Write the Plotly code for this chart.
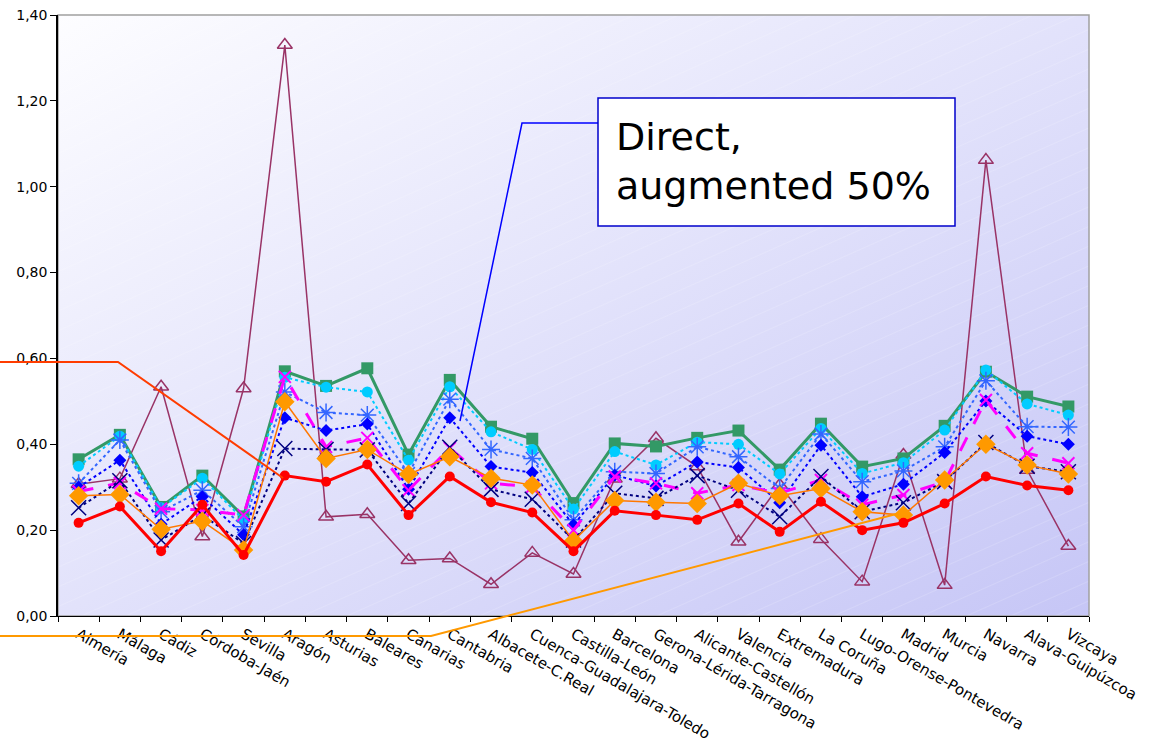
import base64
import plotly.graph_objects as go

# Regions along the x axis
regions = [
    "Almería", "Málaga", "Cádiz", "Córdoba-Jaén", "Sevilla", "Aragón",
    "Asturias", "Baleares", "Canarias", "Cantabria", "Albacete-C.Real",
    "Cuenca-Guadalajara-Toledo", "Castilla-León", "Barcelona",
    "Gerona-Lérida-Tarragona", "Alicante-Castellón", "Valencia",
    "Extremadura", "La Coruña", "Lugo-Orense-Pontevedra", "Madrid",
    "Murcia", "Navarra", "Alava-Guipúzcoa", "Vizcaya",
]

# Series values
s_green = [0.365, 0.422, 0.254, 0.327, 0.232, 0.570, 0.536, 0.577, 0.376, 0.550, 0.441, 0.413, 0.263,
           0.402, 0.395, 0.415, 0.432, 0.341, 0.448, 0.348, 0.367, 0.443, 0.569, 0.511, 0.488]
s_cyan = [0.349, 0.419, 0.252, 0.321, 0.224, 0.556, 0.533, 0.522, 0.363, 0.534, 0.429, 0.388, 0.249,
          0.383, 0.352, 0.405, 0.400, 0.331, 0.437, 0.332, 0.357, 0.433, 0.573, 0.494, 0.468]
s_star = [0.309, 0.410, 0.243, 0.293, 0.208, 0.522, 0.474, 0.468, 0.332, 0.505, 0.388, 0.367, 0.224,
          0.336, 0.332, 0.394, 0.371, 0.297, 0.424, 0.313, 0.338, 0.394, 0.548, 0.441, 0.440]
s_blue = [0.300, 0.363, 0.214, 0.278, 0.189, 0.462, 0.432, 0.447, 0.295, 0.462, 0.348, 0.334, 0.212,
          0.328, 0.303, 0.359, 0.346, 0.264, 0.398, 0.278, 0.307, 0.381, 0.501, 0.419, 0.400]
s_magenta = [0.290, 0.310, 0.250, 0.247, 0.235, 0.557, 0.394, 0.415, 0.293, 0.391, 0.309, 0.301, 0.200,
             0.325, 0.309, 0.286, 0.305, 0.286, 0.317, 0.259, 0.282, 0.313, 0.503, 0.379, 0.356]
s_navy = [0.252, 0.315, 0.177, 0.235, 0.169, 0.390, 0.388, 0.387, 0.262, 0.393, 0.295, 0.272, 0.177,
          0.286, 0.274, 0.327, 0.293, 0.231, 0.325, 0.243, 0.264, 0.313, 0.404, 0.349, 0.336]
s_orange = [0.280, 0.283, 0.202, 0.221, 0.154, 0.499, 0.367, 0.388, 0.330, 0.371, 0.321, 0.305, 0.175,
            0.269, 0.265, 0.262, 0.309, 0.280, 0.297, 0.243, 0.235, 0.317, 0.400, 0.352, 0.331]
s_red = [0.217, 0.255, 0.151, 0.259, 0.142, 0.327, 0.313, 0.353, 0.235, 0.325, 0.265, 0.241, 0.151,
         0.245, 0.235, 0.224, 0.262, 0.196, 0.266, 0.200, 0.217, 0.262, 0.325, 0.304, 0.293]
s_purple = [0.307, 0.320, 0.534, 0.185, 0.530, 1.330, 0.231, 0.237, 0.130, 0.134, 0.074, 0.147, 0.098,
            0.320, 0.414, 0.348, 0.173, 0.305, 0.179, 0.080, 0.375, 0.072, 1.062, 0.340, 0.163]

y_ticks = [0.0, 0.2, 0.4, 0.6, 0.8, 1.0, 1.2, 1.4]

# Figure geometry (pixels)
W, H = 1160, 746
ML, MR, MT, MB = 58, 71, 15, 130
PW, PH = W - ML - MR, H - MT - MB


def px(x):
    return (x - ML) / PW


def py(y):
    return (H - MB - y) / PH


# Plot-area backdrop: soft diagonal gradient with faint hatching
svg = f"""<svg xmlns='http://www.w3.org/2000/svg' width='{PW}' height='{PH}' viewBox='0 0 {PW} {PH}' preserveAspectRatio='none'>
<defs>
<linearGradient id='g' x1='0' y1='0' x2='1' y2='1'>
<stop offset='0' stop-color='#fdfdff'/>
<stop offset='0.5' stop-color='#e2e2fb'/>
<stop offset='1' stop-color='#c6c6f6'/>
</linearGradient>
<pattern id='h' width='40' height='18' patternUnits='userSpaceOnUse' patternTransform='rotate(-24)'>
<line x1='0' y1='0' x2='40' y2='0' stroke='#ffffff' stroke-opacity='0.3' stroke-width='1'/>
</pattern>
</defs>
<rect width='100%' height='100%' fill='url(#g)'/>
<rect width='100%' height='100%' fill='url(#h)'/>
</svg>"""
bg_uri = "data:image/svg+xml;base64," + base64.b64encode(svg.encode()).decode()

fig = go.Figure()


def add_series(values, color, width, dash, symbol, size, mcolor=None, mline=0, lcolor=None):
    fig.add_trace(go.Scatter(
        x=regions, y=values, mode="lines+markers",
        line=dict(color=lcolor or color, width=width, dash=dash),
        marker=dict(symbol=symbol, size=size, color=mcolor or color,
                    line=dict(color=mcolor or color, width=mline)),
        showlegend=False, hoverinfo="x+y",
    ))


add_series(s_purple, "#993366", 1.5, "solid", "triangle-up-open", 13, mline=1.5)
add_series(s_green, "#339966", 3, "solid", "square", 12)
add_series(s_cyan, "#00ccff", 2, "dot", "circle", 11)
add_series(s_star, "#3366ff", 2, "dot", "asterisk-open", 15, mline=1.5)
add_series(s_blue, "#0000ff", 2, "dot", "diamond", 10)
add_series(s_magenta, "#ff00ff", 3, "longdash", "x-thin-open", 12, mline=2)
add_series(s_navy, "#000080", 2, "dot", "x-thin-open", 15, mline=1.5)
add_series(s_orange, "#ff9900", 1.5, "solid", "diamond", 15, lcolor="#ff7700")
add_series(s_red, "#ff0000", 3, "solid", "circle", 10)

shapes = [
    # plot frame
    dict(type="rect", xref="paper", yref="paper", x0=0, x1=1, y0=0, y1=1,
         line=dict(color="#a0a0a0", width=1.5), layer="below"),
    # callout leaders
    dict(type="path", xref="paper", yref="paper",
         path=f"M {px(0)} {py(362)} L {px(118)} {py(362)} L {px(283)} {py(478)}",
         line=dict(color="#ff3c00", width=2)),
    dict(type="path", xref="paper", yref="paper",
         path=f"M {px(0)} {py(636)} L {px(431)} {py(636)} L {px(900)} {py(513)}",
         line=dict(color="#ff9900", width=2)),
    dict(type="path", xref="paper", yref="paper",
         path=f"M {px(598)} {py(123)} L {px(522)} {py(123)} L {px(460)} {py(421)}",
         line=dict(color="#0000ff", width=1.5)),
    # label box
    dict(type="rect", xref="paper", yref="paper",
         x0=px(598), x1=px(955), y0=py(226), y1=py(98),
         fillcolor="white", line=dict(color="#0000cc", width=1.5)),
]

annotations = [
    dict(xref="paper", yref="paper", x=px(614), y=py(161), xanchor="left", yanchor="middle",
         text="Direct,<br>augmented 50%", showarrow=False, align="left",
         font=dict(family="DejaVu Sans", size=38, color="#000000")),
]

fig.update_layout(
    width=W, height=H,
    margin=dict(l=ML, r=MR, t=MT, b=MB, autoexpand=False),
    paper_bgcolor="white",
    plot_bgcolor="rgba(0,0,0,0)",
    separators=",.",
    font=dict(family="DejaVu Sans", color="#000000"),
    shapes=shapes,
    annotations=annotations,
    images=[dict(source=bg_uri, xref="paper", yref="paper", x=0, y=1,
                 sizex=1, sizey=1, sizing="stretch", xanchor="left", yanchor="top",
                 layer="below")],
    xaxis=dict(
        type="category", range=[-0.5, len(regions) - 0.5],
        showgrid=False, zeroline=False,
        showline=True, linecolor="#000000", linewidth=1,
        ticks="outside", ticklen=5, tickcolor="#000000", tickson="boundaries",
        tickangle=30, ticklabelstandoff=3,
        tickfont=dict(size=15, family="DejaVu Sans", color="#000000"),
        automargin=False,
    ),
    yaxis=dict(
        range=[0, 1.4], tickvals=y_ticks, tickformat=".2f",
        showgrid=False, zeroline=False,
        showline=True, linecolor="#000000", linewidth=1.5,
        ticks="outside", ticklen=6, tickcolor="#000000",
        tickfont=dict(size=14, family="DejaVu Sans", color="#000000"),
        automargin=False,
    ),
)

fig.write_html("out.html")
